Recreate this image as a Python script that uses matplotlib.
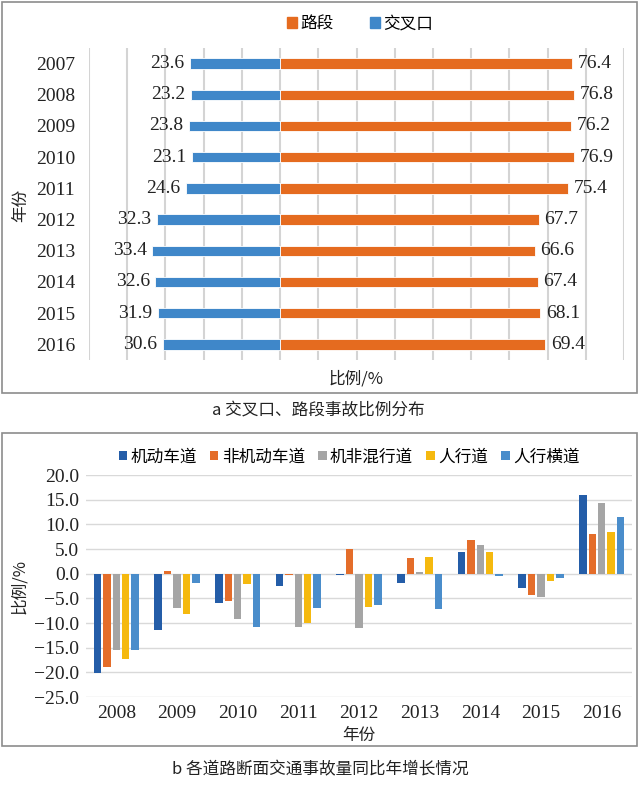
import matplotlib
matplotlib.use("Agg")
import matplotlib.pyplot as plt
import numpy as np
from matplotlib.patches import Rectangle

CJK = ["Noto Sans CJK SC", "DejaVu Sans"]
SERIF = "Liberation Serif"

# ---- data: chart a ----
years_a = ["2007", "2008", "2009", "2010", "2011", "2012", "2013", "2014", "2015", "2016"]
road_seg = [76.4, 76.8, 76.2, 76.9, 75.4, 67.7, 66.6, 67.4, 68.1, 69.4]
intersection = [23.6, 23.2, 23.8, 23.1, 24.6, 32.3, 33.4, 32.6, 31.9, 30.6]
name_seg = "路段"
name_int = "交叉口"

# ---- data: chart b ----
years_b = ["2008", "2009", "2010", "2011", "2012", "2013", "2014", "2015", "2016"]
series_names = ["机动车道", "非机动车道", "机非混行道", "人行道", "人行横道"]
motor = [-20.1, -11.4, -5.9, -2.5, -0.2, -1.8, 4.3, -3.0, 15.9]
nonmotor = [-18.9, 0.5, -5.5, -0.3, 5.1, 3.2, 6.8, -4.3, 8.1]
mixed = [-15.5, -7.0, -9.1, -10.8, -11.1, 0.3, 5.9, -4.7, 14.3]
sidewalk = [-17.3, -8.1, -2.1, -9.9, -6.7, 3.3, 4.3, -1.4, 8.5]
crosswalk = [-15.5, -1.9, -10.8, -6.9, -6.4, -7.2, -0.4, -0.9, 11.4]
yticks_b = [20, 15, 10, 5, 0, -5, -10, -15, -20, -25]

W, H = 640, 785
fig = plt.figure(figsize=(W / 100, H / 100), dpi=100)

def fx(x):
    return x / W

def fy(y):
    return 1 - y / H

# frames
for (x0, y0, x1, y1) in [(2, 2, 637, 393), (2, 433, 637, 746)]:
    fig.patches.append(Rectangle((fx(x0), fy(y1)), fx(x1 - x0), (y1 - y0) / H,
                                 transform=fig.transFigure, fill=False,
                                 edgecolor="#8c8c8c", linewidth=1.2))

# ---------- chart a ----------
c_seg = "#E56B1F"
c_int = "#3F87C9"
ax1 = fig.add_axes([fx(89), fy(360), fx(624 - 89), (360 - 48) / H])
pos = np.arange(len(years_a))
ax1.barh(pos, road_seg, height=0.33, color=c_seg, edgecolor="white", linewidth=0.6, zorder=3)
ax1.barh(pos, [-v for v in intersection], height=0.33, color=c_int, edgecolor="white", linewidth=0.6, zorder=3)
for p, v in zip(pos, road_seg):
    ax1.text(v + 1.5, p, f"{v:.1f}", ha="left", va="center", fontsize=14, family=SERIF, color="#222222")
for p, v in zip(pos, intersection):
    ax1.text(-v - 1.5, p, f"{v:.1f}", ha="right", va="center", fontsize=14, family=SERIF, color="#222222")
ax1.set_xlim(-50, 90)
ax1.set_ylim(len(years_a) - 0.5, -0.5)
ax1.set_xticks(np.arange(-50, 91, 10))
ax1.set_xticklabels([])
ax1.set_yticks(pos)
ax1.set_yticklabels(years_a, family=SERIF, fontsize=14, color="#222222")
ax1.tick_params(axis="both", length=0)
ax1.tick_params(axis="y", pad=10)
ax1.grid(axis="x", color="#d4d4d4", linewidth=1.5, zorder=0)
for s in ax1.spines.values():
    s.set_visible(False)
ax1.set_xlabel("比例/%", family=CJK, fontsize=12, labelpad=4, color="#222222")
fig.text(fx(21), fy(205), "年份", rotation=90, ha="center", va="center", family=CJK, fontsize=12, color="#222222")
# legend a
h_seg = plt.Rectangle((0, 0), 1, 1, color=c_seg)
h_int = plt.Rectangle((0, 0), 1, 1, color=c_int)
fig.legend([h_seg, h_int], [name_seg, name_int], loc="center", bbox_to_anchor=(fx(360), fy(24)),
           ncol=2, frameon=False, prop={"family": CJK, "size": 12}, handlelength=0.6,
           handleheight=0.6, handletextpad=0.2, columnspacing=2.2)

fig.text(fx(318), fy(411), "a 交叉口、路段事故比例分布", ha="center", va="center",
         family=CJK, fontsize=12, color="#222222")

# ---------- chart b ----------
colors_b = ["#245DA8", "#E46D2A", "#A5A5A5", "#F5B90F", "#4A8DCB"]
ax2 = fig.add_axes([fx(86), fy(697), fx(632 - 86), (697 - 475) / H])
xb = np.arange(len(years_b))
all_series = [motor, nonmotor, mixed, sidewalk, crosswalk]
pitch = 0.155
bw = 0.122
for i, (vals, col, nm) in enumerate(zip(all_series, colors_b, series_names)):
    ax2.bar(xb + (i - 2) * pitch, vals, width=bw, color=col, label=nm, zorder=3)
ax2.set_xlim(-0.5, len(years_b) - 0.5)
ax2.set_ylim(-25, 20)
ax2.set_yticks(yticks_b)
ax2.set_yticklabels([f"{v:.1f}".replace("-", "\u2212") for v in yticks_b], family=SERIF, fontsize=14, color="#222222")
ax2.set_xticks(xb)
ax2.set_xticklabels(years_b, family=SERIF, fontsize=14, color="#222222")
ax2.tick_params(axis="both", length=0)
ax2.tick_params(axis="y", pad=5)
ax2.tick_params(axis="x", pad=6)
ax2.grid(axis="y", color="#d9d9d9", linewidth=1.0, zorder=0)
for s in ax2.spines.values():
    s.set_visible(False)
ax2.set_xlabel("年份", family=CJK, fontsize=12, labelpad=3, color="#222222")
fig.text(fx(20), fy(587), "比例/%", rotation=90, ha="center", va="center", family=CJK, fontsize=12, color="#222222")
fig.legend(*ax2.get_legend_handles_labels(), loc="center", bbox_to_anchor=(fx(349), fy(457)),
           ncol=5, frameon=False, prop={"family": CJK, "size": 12}, handlelength=0.5,
           handleheight=0.5, handletextpad=0.2, columnspacing=0.8)

fig.text(fx(320), fy(770), "b 各道路断面交通事故量同比年增长情况", ha="center", va="center",
         family=CJK, fontsize=12, color="#222222")

fig.savefig("out.png", dpi=100)
